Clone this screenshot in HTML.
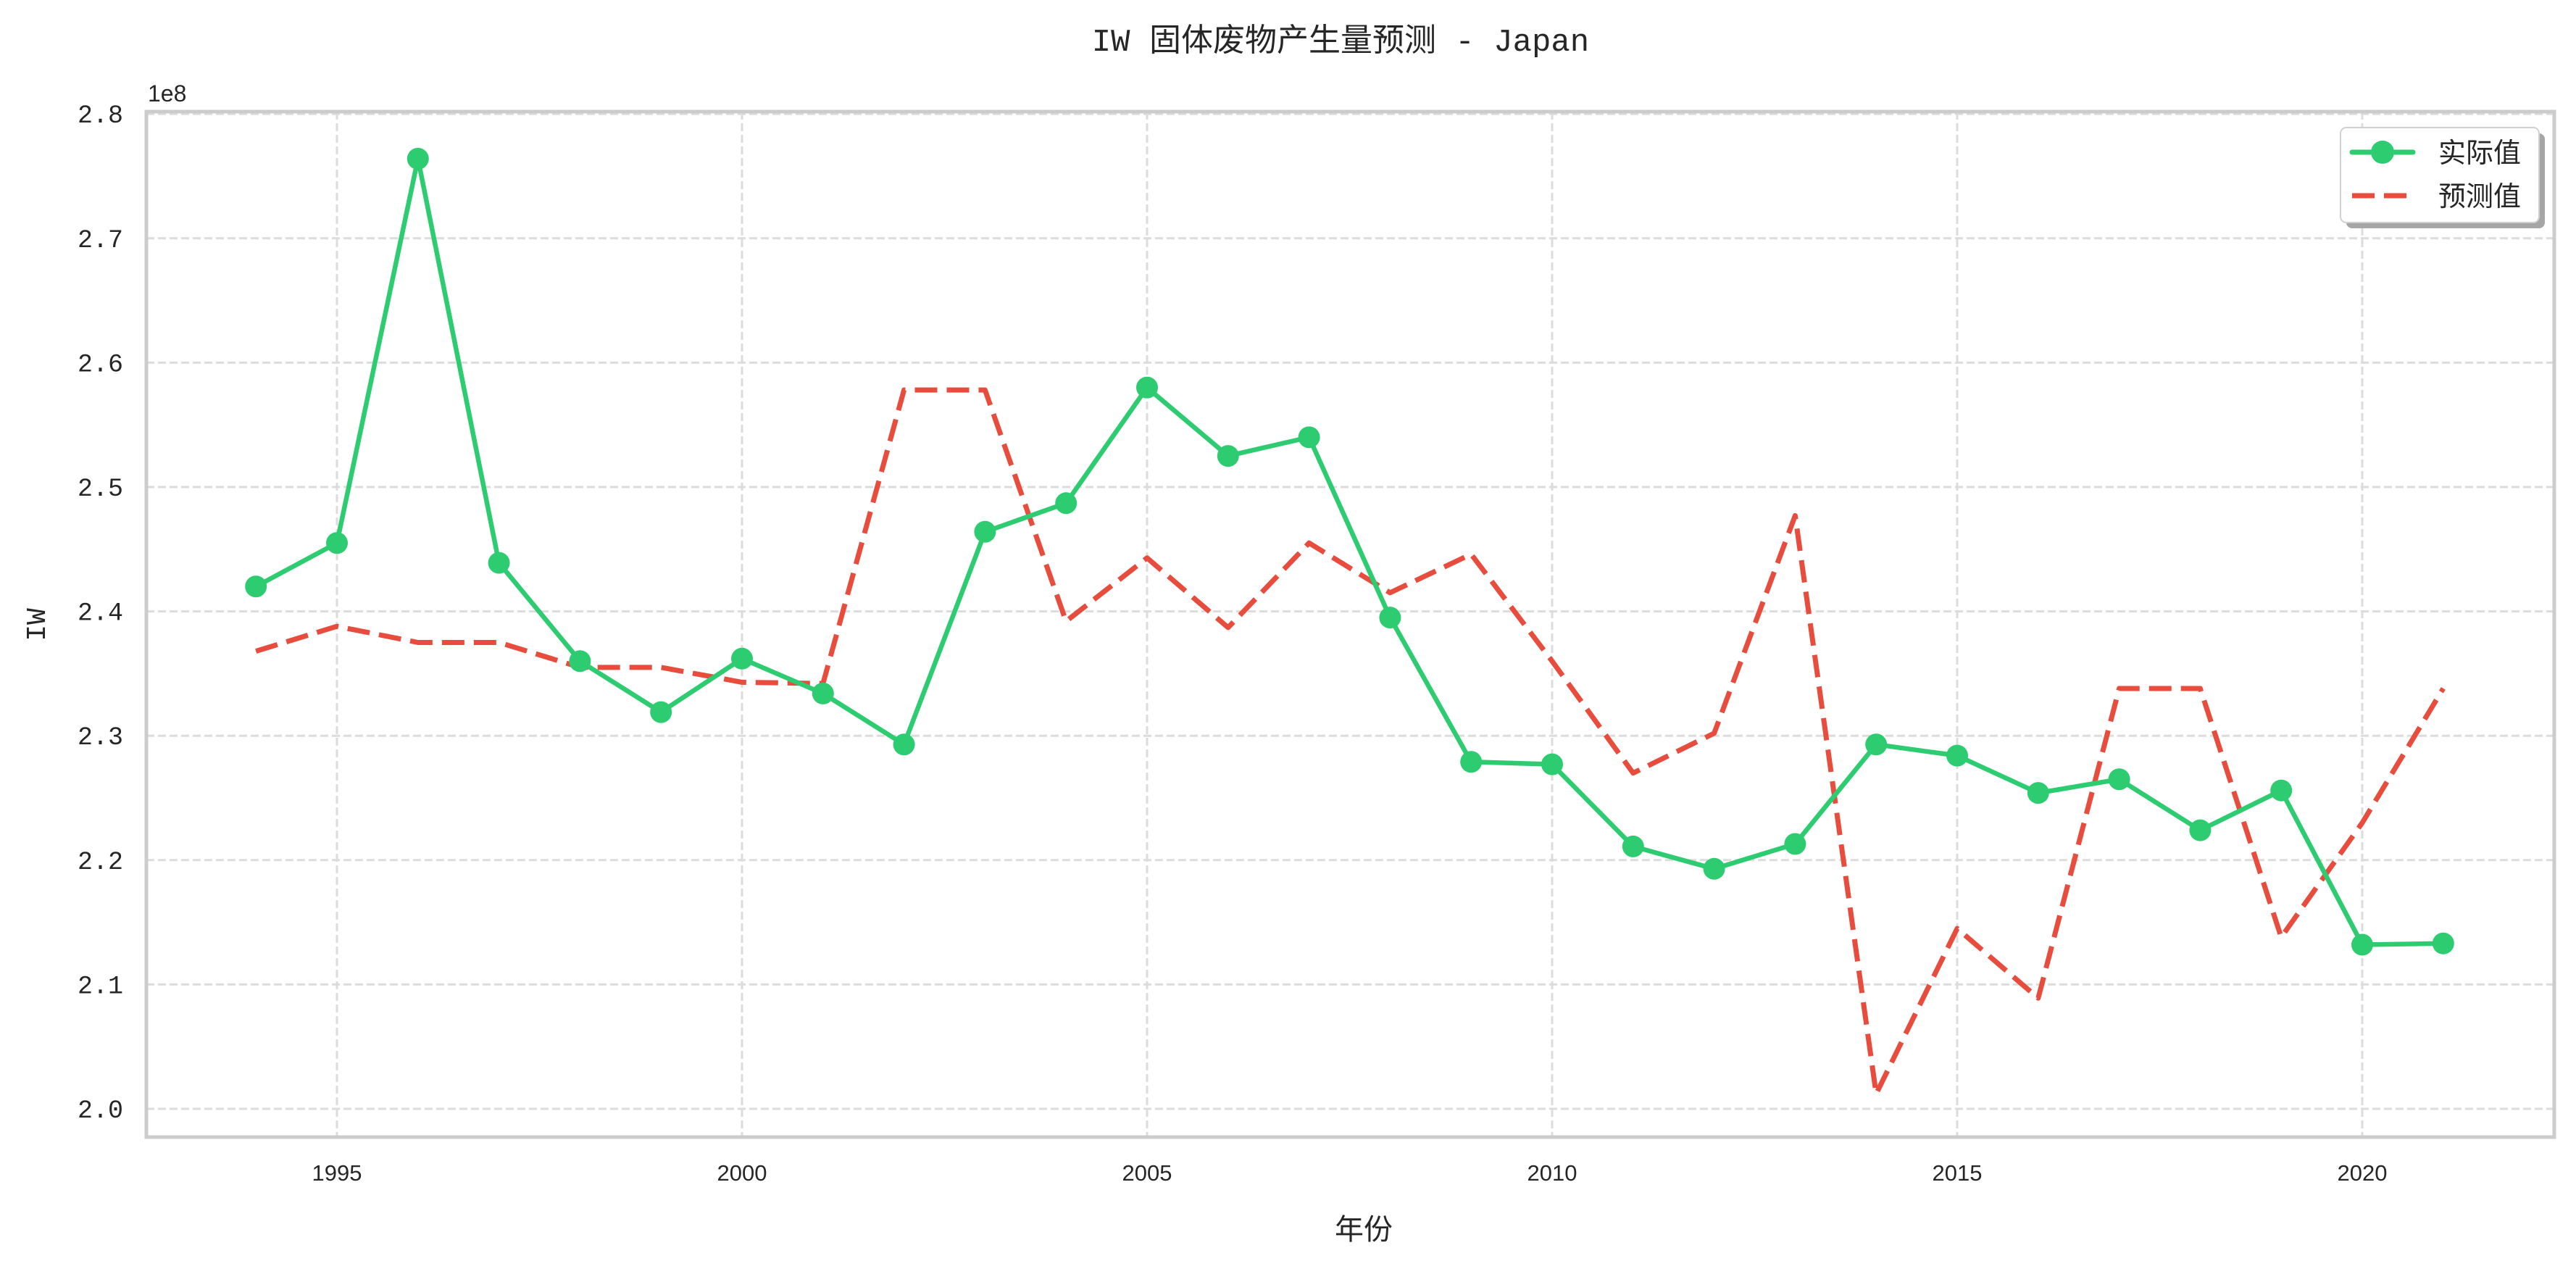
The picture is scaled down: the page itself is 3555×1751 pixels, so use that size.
<!DOCTYPE html>
<html><head><meta charset="utf-8"><style>
html,body{margin:0;padding:0;background:#fff;}
svg{display:block;}
text{font-family:"Liberation Mono","Noto Sans CJK SC",monospace;fill:#262626;}
.cjk{font-family:"Noto Sans CJK SC","WenQuanYi Zen Hei",sans-serif;}
.sans{font-family:"Liberation Sans",sans-serif;}
</style></head><body>
<svg id="chart" width="3555" height="1751" viewBox="0 0 3555 1751" xmlns="http://www.w3.org/2000/svg">
<rect width="3555" height="1751" fill="#fff"/>
<g id="grid"></g>
<g id="series"></g>
<rect x="202" y="154" width="3323" height="1415" fill="none" stroke="#cccccc" stroke-width="5"/>
<g id="ticks"></g>
<text x="1850" y="70" font-size="44" text-anchor="middle">IW 固体废物产生量预测 - Japan</text>
<text class="sans" x="204" y="140" font-size="32">1e8</text>
<text x="0" y="0" font-size="38" text-anchor="middle" transform="translate(62,862) rotate(-90)">IW</text>
<text class="cjk" x="1882" y="1710" font-size="40" text-anchor="middle">年份</text>
<g>
<rect x="3238" y="184" width="274" height="131" rx="8" fill="#a6a6a6"/>
<rect x="3230" y="176" width="274" height="131" rx="8" fill="#fff" stroke="#d0d0d0" stroke-width="2"/>
<line x1="3246" y1="210" x2="3330" y2="210" stroke="#2ecc71" stroke-width="7" stroke-linecap="round"/>
<circle cx="3288" cy="210" r="16" fill="#2ecc71"/>
<text class="cjk" x="3365" y="224" font-size="38">实际值</text>
<line x1="3246" y1="270" x2="3321" y2="270" stroke="#e74c3c" stroke-width="7" stroke-dasharray="31 13"/>
<text class="cjk" x="3365" y="284" font-size="38">预测值</text>
</g>
</svg>
<script>
const years = [1994,1995,1996,1997,1998,1999,2000,2001,2002,2003,2004,2005,2006,2007,2008,2009,2010,2011,2012,2013,2014,2015,2016,2017,2018,2019,2020,2021];
const actualValues = [2.420,2.455,2.764,2.439,2.360,2.319,2.362,2.334,2.293,2.464,2.487,2.580,2.525,2.540,2.395,2.279,2.277,2.211,2.193,2.213,2.293,2.284,2.254,2.265,2.224,2.256,2.132,2.133];
const predictedValues = [2.368,2.388,2.375,2.375,2.355,2.355,2.343,2.342,2.578,2.578,2.392,2.443,2.387,2.455,2.415,2.446,2.360,2.270,2.302,2.477,2.012,2.145,2.089,2.338,2.338,2.138,2.230,2.338];
const xTicks = [1995,2000,2005,2010,2015,2020];
const yTicks = [2.0,2.1,2.2,2.3,2.4,2.5,2.6,2.7,2.8];
const yTickLabels = ["2.0","2.1","2.2","2.3","2.4","2.5","2.6","2.7","2.8"];

const NS = "http://www.w3.org/2000/svg";
function xs(v){ return 465 + (v-1995)*111.8; }
function ys(v){ return 1530 - (v-2.0)*1716; }
function mk(tag, attrs, parent){
  const e = document.createElementNS(NS, tag);
  for (const k in attrs) e.setAttribute(k, attrs[k]);
  parent.appendChild(e); return e;
}
const grid = document.getElementById('grid');
const ticks = document.getElementById('ticks');
const series = document.getElementById('series');
xTicks.forEach(t=>{
  const l = mk('line',{x1:xs(t),x2:xs(t),y1:154,y2:1569,stroke:'#dcdcdc','stroke-width':3,'stroke-dasharray':'11 5'},grid);
  
  
  const tx = mk('text',{x:xs(t),y:1629,'font-size':31,'text-anchor':'middle','class':'sans'},ticks);
  tx.textContent = t;
  
  
});
yTicks.forEach((t,i)=>{
  const l = mk('line',{x1:202,x2:3525,y1:ys(t),y2:ys(t),stroke:'#dcdcdc','stroke-width':3,'stroke-dasharray':'11 5'},grid);
  
  
  const tx = mk('text',{x:170,y:ys(t)+12,'font-size':35,'text-anchor':'end'},ticks);
  tx.textContent = yTickLabels[i];
  
  
});
const pPts = years.map((y,i)=>xs(y)+','+ys(predictedValues[i])).join(' ');
const pl = mk('polyline',{points:pPts,fill:'none',stroke:'#e74c3c','stroke-width':7,'stroke-dasharray':'31 13','stroke-linejoin':'round'},series);


const aPts = years.map((y,i)=>xs(y)+','+ys(actualValues[i])).join(' ');
const al = mk('polyline',{points:aPts,fill:'none',stroke:'#2ecc71','stroke-width':6.5,'stroke-linejoin':'round'},series);


years.forEach((y,i)=>{
  const c = mk('circle',{cx:xs(y),cy:ys(actualValues[i]),r:15,fill:'#2ecc71'},series);
  
  
});
</script>
</body></html>
